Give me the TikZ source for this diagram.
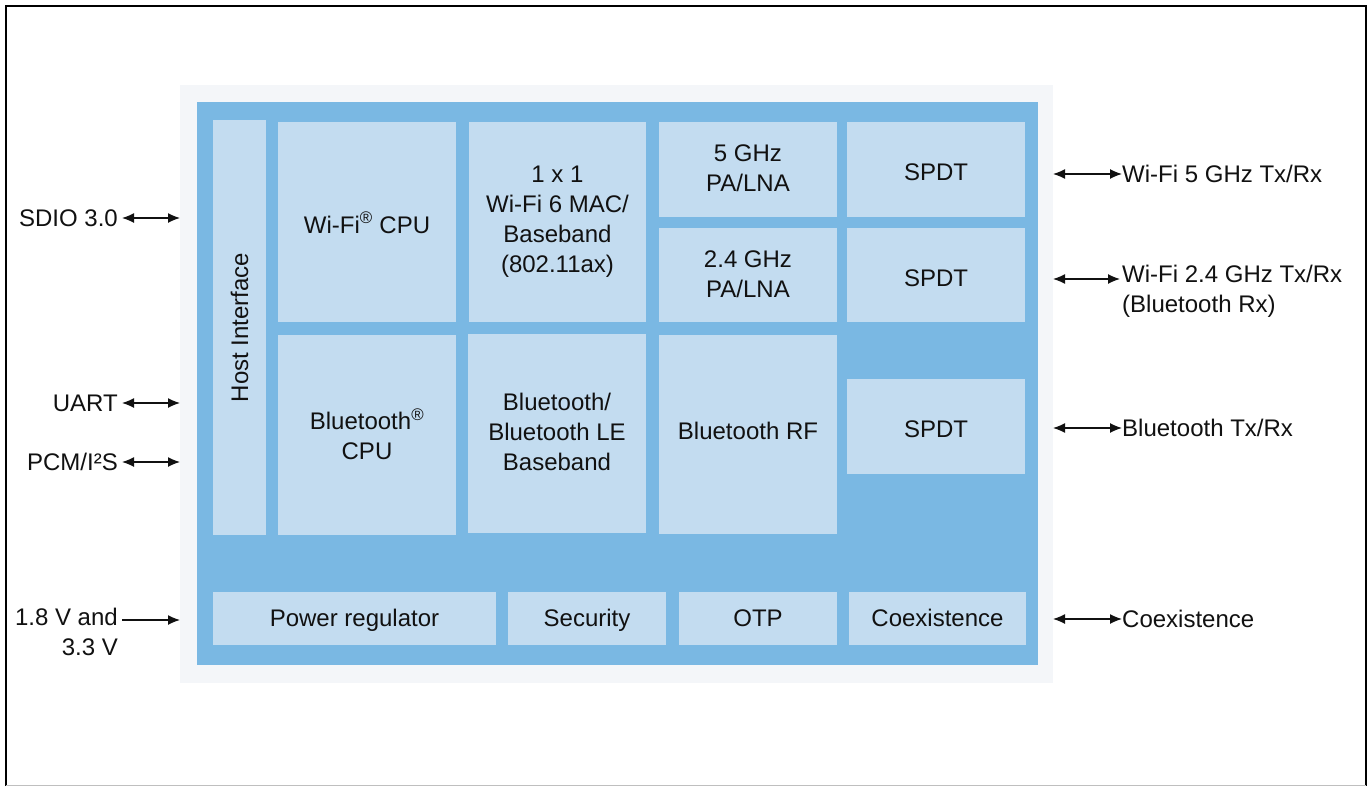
\documentclass[tikz,border=0pt]{standalone}
\usepackage{fontspec}
\setmainfont{Liberation Sans}
\usetikzlibrary{arrows.meta}
\definecolor{pale}{HTML}{F4F6F9}
\definecolor{chip}{HTML}{7AB8E3}
\definecolor{cell}{HTML}{C3DCF0}
\definecolor{ink}{HTML}{111111}
\newcommand{\mystrut}{\rule[-2pt]{0pt}{26pt}}
\tikzset{
  x=1pt,y=-1pt,
  blk/.style={fill=cell,draw=none,inner sep=0pt,align=center,text=ink,font=\fontsize{24}{30}\selectfont,
    execute at begin node=\mystrut, execute at end node=\mystrut},
  lbl/.style={inner sep=0pt,text=ink,font=\fontsize{24}{30}\selectfont},
  bidir/.style={{Latex[length=12pt,width=10pt]}-{Latex[length=12pt,width=10pt]},line width=1.3pt,draw=ink},
  uni/.style={-{Latex[length=12pt,width=10pt]},line width=1.3pt,draw=ink},
}
\begin{document}
\begin{tikzpicture}
\useasboundingbox (0,0) rectangle (1369,787);
\fill[white] (0,0) rectangle (1369,787);
% outer frame
\draw[line width=2.5pt,black] (6,786) -- (6,6) -- (1366,6) -- (1366,786);
\draw[line width=1pt,black!25] (6,785.5) -- (1366,785.5);
% pale background and chip
\fill[pale] (180,85) rectangle (1053,683);
\node[fill=chip,inner sep=0pt,minimum width=841,minimum height=563] (chip) at (617.5,383.5) {};
% blocks
\node[fill=cell,inner sep=0pt,minimum width=53,minimum height=415] (host) at (239.5,327.5) {};
\node[rotate=90,lbl] at (host.center) {Host Interface};
\node[blk,minimum width=178,minimum height=200] (wcpu) at (367,222) {Wi-Fi\textsuperscript{®} CPU};
\node[blk,minimum width=177,minimum height=200] (mac) at (557.5,222) {1 x 1\\Wi-Fi 6 MAC/\\Baseband\\(802.11ax)};
\node[blk,minimum width=178,minimum height=95] (pa5) at (748,169.5) {5 GHz\\PA/LNA};
\node[blk,minimum width=178,minimum height=95] (spdt1) at (936,169.5) {SPDT};
\node[blk,minimum width=178,minimum height=94] (pa24) at (748,275) {2.4 GHz\\PA/LNA};
\node[blk,minimum width=178,minimum height=94] (spdt2) at (936,275) {SPDT};
\node[blk,minimum width=178,minimum height=200] (bcpu) at (367,435) {Bluetooth\textsuperscript{®}\\CPU};
\node[blk,minimum width=178,minimum height=199] (bbb) at (557,433.5) {\raisebox{2pt}{Bluetooth/}\\\raisebox{2pt}{Bluetooth LE}\\\raisebox{2pt}{Baseband}};
\node[blk,minimum width=178,minimum height=199] (brf) at (748,434) {\raisebox{6pt}{Bluetooth RF}};
\node[blk,minimum width=178,minimum height=95] (spdt3) at (936,426.5) {SPDT};
\node[blk,minimum width=283,minimum height=53] (pwr) at (354.5,618.5) {\raisebox{3pt}{Power regulator}};
\node[blk,minimum width=158,minimum height=53] (sec) at (587,618.5) {\raisebox{3pt}{Security}};
\node[blk,minimum width=158,minimum height=53] (otp) at (758,618.5) {\raisebox{3pt}{OTP}};
\node[blk,minimum width=177,minimum height=53] (coex) at (937.5,618.5) {\raisebox{3pt}{Coexistence}};
% left signals
\node[lbl,anchor=east] (sdio) at (118,218) {SDIO 3.0};
\node[lbl,anchor=east] (uart) at (118,403) {UART};
\node[lbl,anchor=east] (pcm) at (118,462) {PCM/I²S};
\node[lbl,anchor=east,align=right] (vin) at (118,632) {1.8 V and\\3.3 V};
\coordinate (sdioE) at (180,218);
\coordinate (uartE) at (180,403);
\coordinate (pcmE) at (180,462);
\coordinate (vinE) at (180,620);
\draw[bidir] (122,218) -- (sdioE);
\draw[bidir] (122,403) -- (uartE);
\draw[bidir] (122,462) -- (pcmE);
\draw[uni] (122,620) -- (vinE);
% right signals
\node[lbl,anchor=west] (w5) at (1122,174) {Wi-Fi 5 GHz Tx/Rx};
\node[lbl,anchor=north west,align=left] (w24) at (1122,265) {Wi-Fi 2.4 GHz Tx/Rx\\(Bluetooth Rx)};
\node[lbl,anchor=west] (bt) at (1122,428) {Bluetooth Tx/Rx};
\node[lbl,anchor=west] (cx) at (1122,619) {Coexistence};
\coordinate (w5E) at (1053,174);
\coordinate (w24E) at (1053,279);
\coordinate (btE) at (1053,428);
\coordinate (cxE) at (1053,619);
\draw[bidir] (w5E) -- (w5.west);
\draw[bidir] (w24E) -- (1120,279);
\draw[bidir] (btE) -- (bt.west);
\draw[bidir] (cxE) -- (cx.west);
\end{tikzpicture}
\end{document}
